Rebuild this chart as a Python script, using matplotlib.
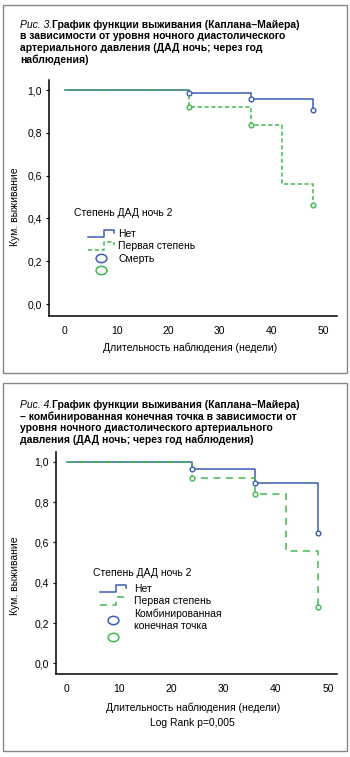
import matplotlib
matplotlib.use('Agg')
import matplotlib.pyplot as plt
from matplotlib.legend_handler import HandlerBase
from matplotlib.lines import Line2D
from matplotlib.markers import MarkerStyle
from matplotlib.patches import Rectangle
from matplotlib.transforms import Affine2D

W, H = 350, 757
BLUE = '#3b5cb4'
GREEN = '#3dba4b'
FS = 7.5

plt.rcParams['font.family'] = ['Liberation Sans', 'DejaVu Sans']
plt.rcParams['font.size'] = FS
plt.rcParams['lines.scale_dashes'] = False

# Рис. 3 - смерть
weeks_none_3 = [0, 24, 36, 48]
surv_none_3 = [1.0, 0.985, 0.957, 0.907]
weeks_first_3 = [0, 24, 36, 42, 48]
surv_first_3 = [1.0, 0.922, 0.836, 0.559, 0.464]

# Рис. 4 - комбинированная конечная точка
weeks_none_4 = [0, 24, 36, 48]
surv_none_4 = [1.0, 0.964, 0.895, 0.648]
weeks_first_4 = [0, 24, 36, 42, 48]
surv_first_4 = [1.0, 0.922, 0.84, 0.559, 0.279]

mark_weeks = [24, 36, 48]

x_ticks = [0, 10, 20, 30, 40, 50]
y_ticks = [0.0, 0.2, 0.4, 0.6, 0.8, 1.0]
y_tick_labels = ['0,0', '0,2', '0,4', '0,6', '0,8', '1,0']

legend_title = 'Степень ДАД ночь 2'
group_labels = ['Нет', 'Первая степень']

title3_lead = 'Рис. 3.'
title3_lines = ['График функции выживания (Каплана–Майера)',
                'в зависимости от уровня ночного диастолического',
                'артериального давления (ДАД ночь; через год',
                'наблюдения)']
title4_lead = 'Рис. 4.'
title4_lines = ['График функции выживания (Каплана–Майера)',
                '– комбинированная конечная точка в зависимости от',
                'уровня ночного диастолического артериального',
                'давления (ДАД ночь; через год наблюдения)']

xlabel = 'Длительность наблюдения (недели)'
ylabel = 'Кум. выживание'


def fx(px):
    return px / W


def fy(py):
    return 1 - py / H


class StepHandler(HandlerBase):
    def create_artists(self, legend, orig_handle, xdescent, ydescent,
                       width, height, fontsize, trans):
        x0 = -xdescent
        x1 = x0 + width
        xm = x0 + 0.62 * width
        lo = -ydescent - 0.05 * height
        hi = -ydescent + 1.0 * height
        line = Line2D([x0, xm, xm, x1, x1], [lo, lo, hi, hi, lo + 0.6 * height])
        line.update_from(orig_handle)
        line.set_transform(trans)
        return [line]


def title(fig, renderer, lead, lines, x, y0):
    t = fig.text(fx(x), fy(y0), lead, style='italic', fontsize=FS, va='baseline')
    w = t.get_window_extent(renderer).width
    for i, line in enumerate(lines):
        xx = x + w if i == 0 else x
        fig.text(fx(xx), fy(y0 + i * 11.7), line, fontweight='bold',
                 fontsize=FS, va='baseline')


def panel(fig, box, xlim, ylim, weeks_none, surv_none, weeks_first, surv_first,
          dashes, legend_xy, legend_title_xy, circle_label, textpad):
    left, top, right, bottom = box
    ax = fig.add_axes([fx(left), fy(bottom), fx(right - left), (bottom - top) / H])
    ax.step(weeks_none, surv_none, where='post', color=BLUE, lw=1.1)
    ax.step(weeks_first, surv_first, where='post', color=GREEN, lw=1.1,
            ls=(0, dashes))
    for weeks, surv, c in [(weeks_none, surv_none, BLUE), (weeks_first, surv_first, GREEN)]:
        mx = [w for w in weeks if w in mark_weeks]
        my = [s for w, s in zip(weeks, surv) if w in mark_weeks]
        ax.plot(mx, my, ls='none', marker='o', ms=3.4, mfc='white', mec=c, mew=1.0)

    ax.set_xlim(*xlim)
    ax.set_ylim(*ylim)
    ax.set_xticks(x_ticks)
    ax.set_yticks(y_ticks)
    ax.set_yticklabels(y_tick_labels)
    for s in ['top', 'right']:
        ax.spines[s].set_visible(False)
    for s in ['left', 'bottom']:
        ax.spines[s].set_linewidth(1.1)
    ax.tick_params(axis='y', length=2.5, width=0.8, pad=2.5, labelsize=FS)
    ax.tick_params(axis='x', length=0, pad=7.5, labelsize=FS)
    ax.patch.set_alpha(0)

    h_none = Line2D([], [], color=BLUE, lw=1.1)
    h_first = Line2D([], [], color=GREEN, lw=1.1, ls=(0, dashes))
    ellipse = MarkerStyle('o', transform=Affine2D().scale(1.3, 1.0))
    h_c1 = Line2D([], [], ls='none', marker=ellipse, ms=6.0, mfc='none', mec=BLUE, mew=1.1)
    h_c2 = Line2D([], [], ls='none', marker=ellipse, ms=6.0, mfc='none', mec=GREEN, mew=1.1)
    ax.legend([h_none, h_first, h_c1, h_c2], group_labels + [circle_label, ''],
              handler_map={h_none: StepHandler(), h_first: StepHandler()},
              loc='upper left', bbox_to_anchor=(fx(legend_xy[0]), fy(legend_xy[1])),
              bbox_transform=fig.transFigure, frameon=False, borderpad=0,
              borderaxespad=0, handlelength=2.5, handletextpad=textpad,
              labelspacing=0.22, fontsize=FS)
    fig.text(fx(legend_title_xy[0]), fy(legend_title_xy[1]), legend_title,
             fontsize=FS, va='baseline')
    return ax


fig = plt.figure(figsize=(W / 100, H / 100), dpi=100)
renderer = fig.canvas.get_renderer()

for y1, y2 in [(5, 373), (383, 751)]:
    fig.add_artist(Rectangle((fx(3), fy(y2)), fx(344), (y2 - y1) / H,
                             transform=fig.transFigure, fill=False,
                             edgecolor='#858585', lw=1.0))

# panel 1
title(fig, renderer, title3_lead, title3_lines, 20, 27.5)
panel(fig, (49, 80, 337, 316), (-3.1, 52.7), (-0.056, 1.047),
      weeks_none_3, surv_none_3, weeks_first_3, surv_first_3,
      (3.0, 1.9), (88, 229), (74, 216.5), 'Смерть', 0.4)
fig.text(fx(190), fy(348), xlabel, ha='center', va='center', fontsize=FS)
fig.text(fx(15), fy(207), ylabel, rotation=90, ha='center', va='center', fontsize=FS)

# panel 2
title(fig, renderer, title4_lead, title4_lines, 20, 408)
panel(fig, (56, 452, 337, 674), (-2.05, 51.7), (-0.053, 1.049),
      weeks_none_4, surv_none_4, weeks_first_4, surv_first_4,
      (5.0, 4.0), (100, 584), (93, 576.5), 'Комбинированная\nконечная точка', 0.75)
fig.text(fx(193), fy(708), xlabel, ha='center', va='center', fontsize=FS)
fig.text(fx(192), fy(723), 'Log Rank p=0,005', ha='center', va='center', fontsize=FS)
fig.text(fx(15), fy(576), ylabel, rotation=90, ha='center', va='center', fontsize=FS)

fig.savefig('out.png', dpi=100)
